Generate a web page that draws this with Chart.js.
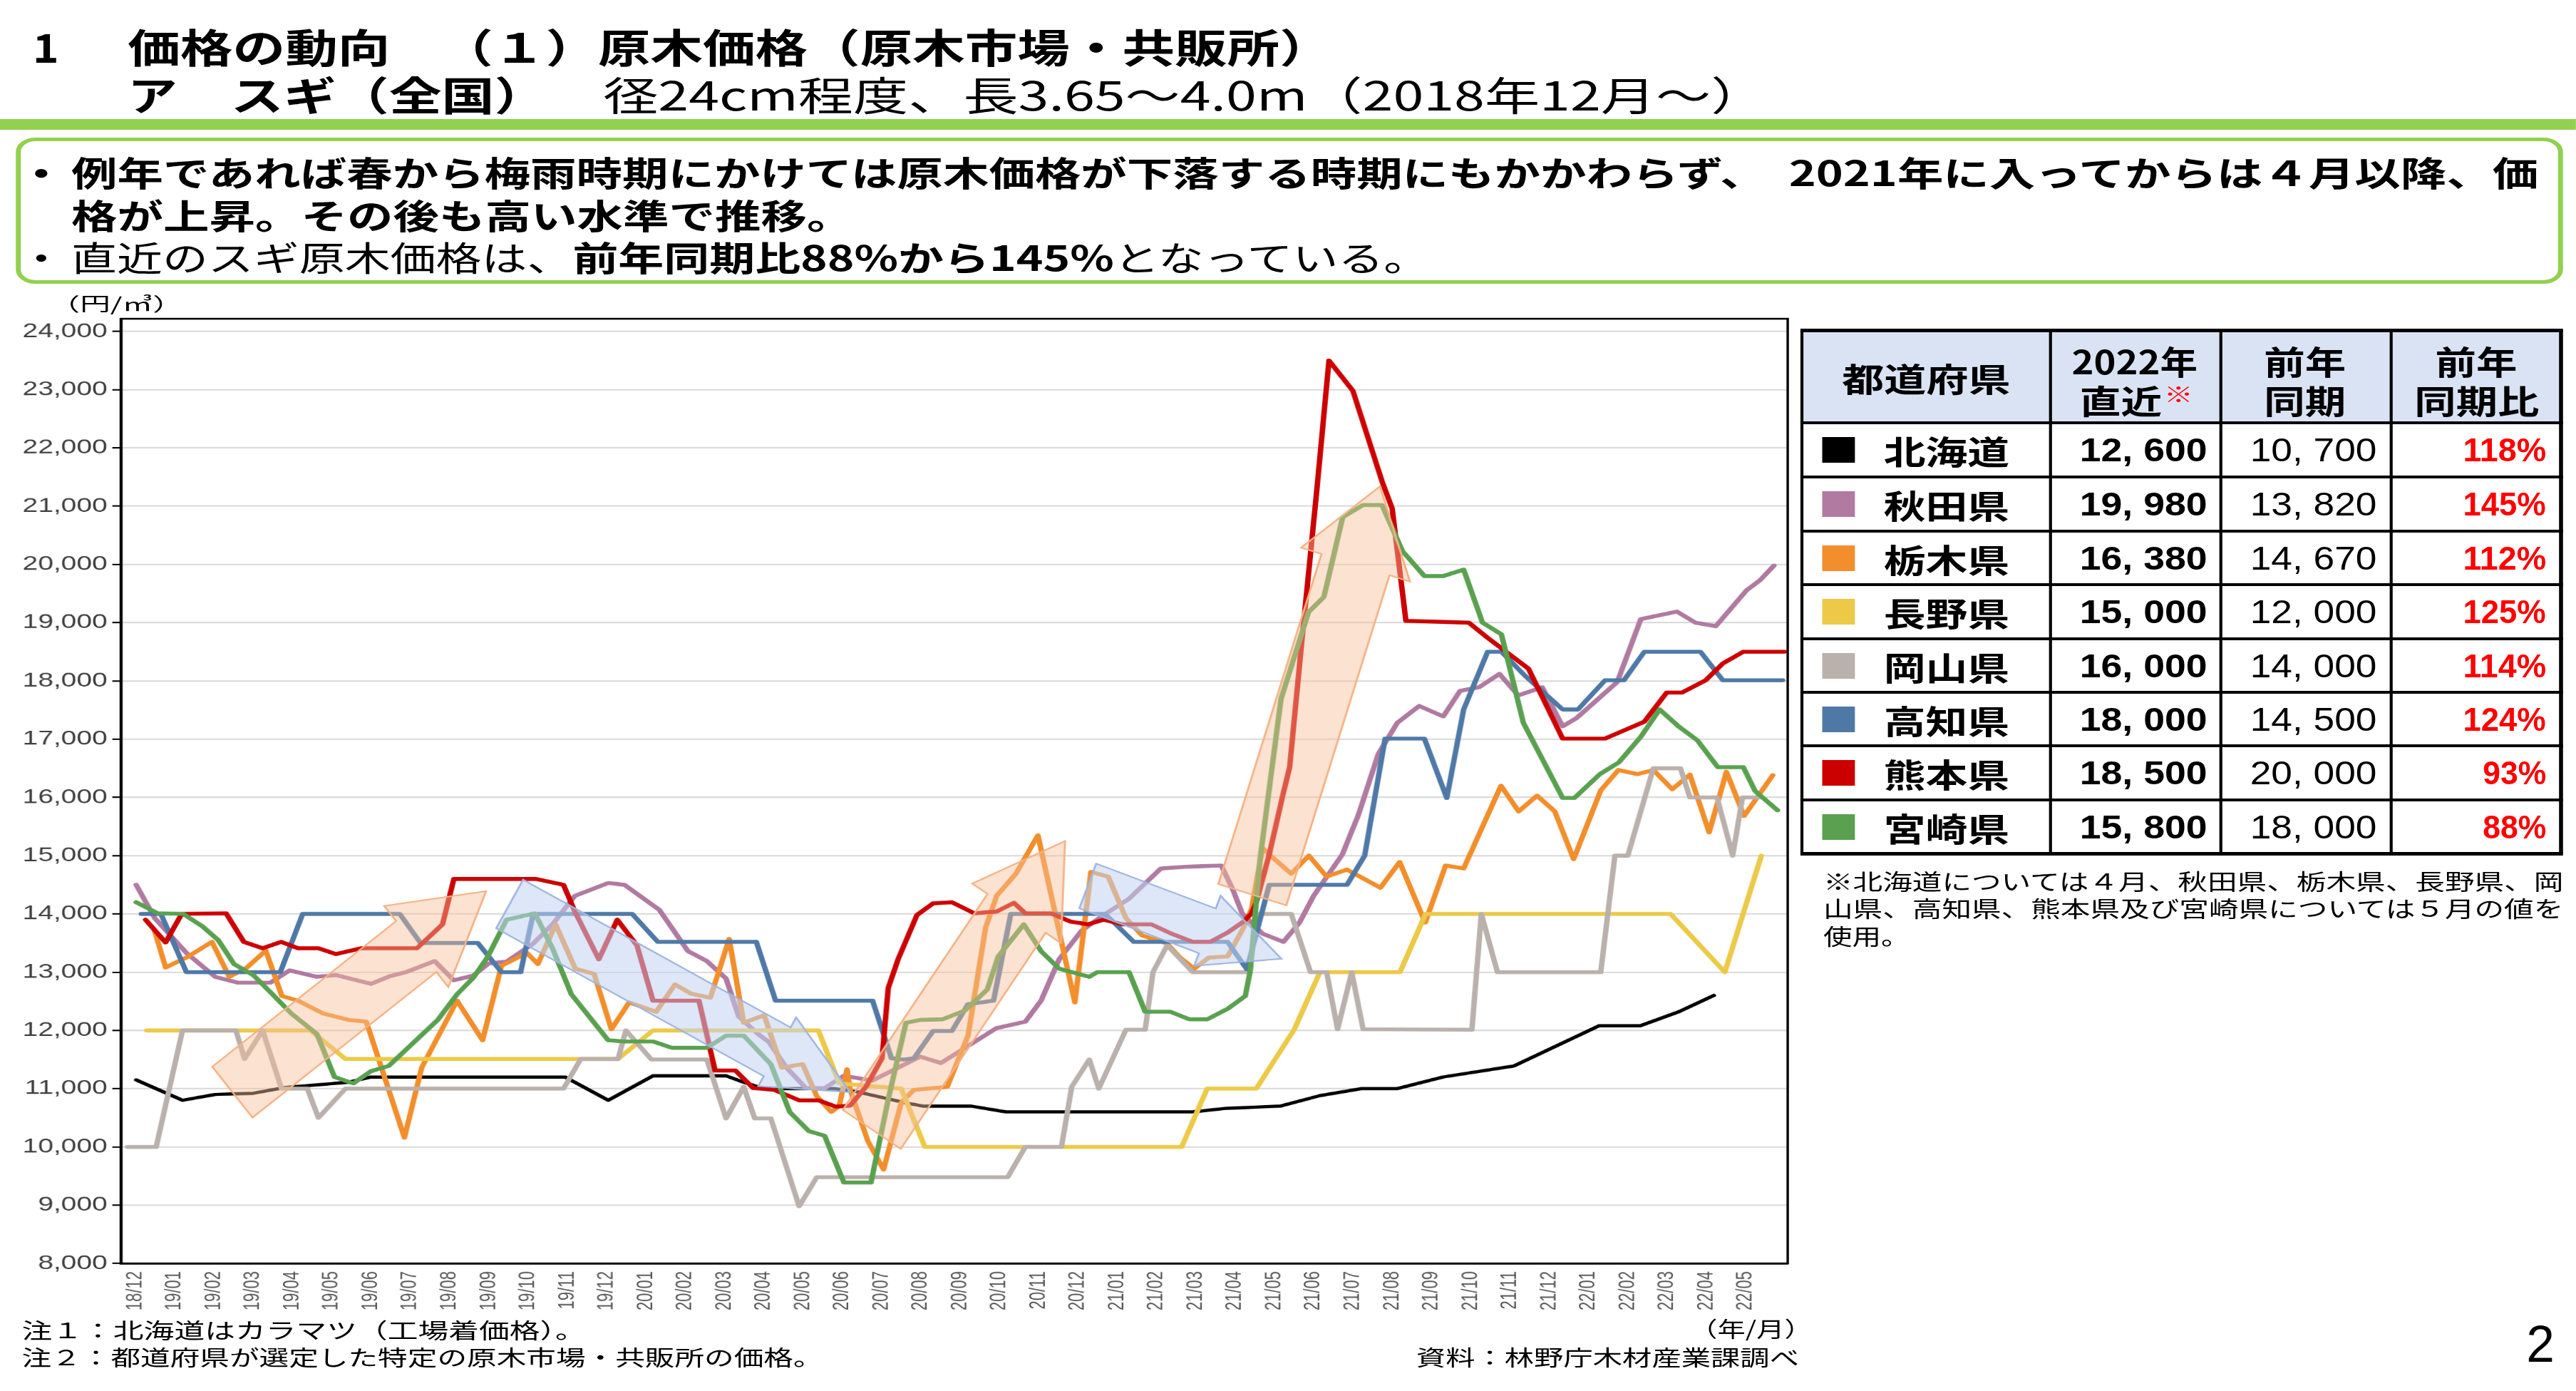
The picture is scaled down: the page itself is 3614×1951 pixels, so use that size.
<!DOCTYPE html>
<html><head><meta charset="utf-8">
<script src="https://cdn.jsdelivr.net/npm/chart.js@4/dist/chart.umd.min.js"></script>
<style>
html,body{margin:0;padding:0;background:#fff;overflow:hidden;}
body{width:3614px;height:1951px;position:relative;}
#slide{position:absolute;left:0;top:0;width:2601px;height:1951px;transform:scaleX(1.3894);transform-origin:0 0;}
.t{position:absolute;white-space:nowrap;line-height:1;font-family:"Noto Sans CJK JP","Noto Sans",sans-serif;color:#000;transform-origin:0 50%;}
.t b{font-weight:700;}
.box{position:absolute;}
#cv{position:absolute;left:0;top:400px;}
</style></head>
<body><div id="slide"><canvas id="cv" width="1815" height="1460"></canvas></div>
<script>
// ---------------- DATA ----------------
const months = ['18/12','19/01','19/02','19/03','19/04','19/05','19/06','19/07','19/08','19/09','19/10','19/11','19/12',
  '20/01','20/02','20/03','20/04','20/05','20/06','20/07','20/08','20/09','20/10','20/11','20/12',
  '21/01','21/02','21/03','21/04','21/05','21/06','21/07','21/08','21/09','21/10','21/11','21/12',
  '22/01','22/02','22/03','22/04','22/05'];
const yTicks = [8000,9000,10000,11000,12000,13000,14000,15000,16000,17000,18000,19000,20000,21000,22000,23000,24000];
const seriesNames = ['北海道','秋田県','栃木県','長野県','岡山県','高知県','熊本県','宮崎県'];
// [month offset from 18/12, price yen/m3]
const hokkaido = [[0.02,11150],[1.2,10800],[2.03,10900],[3.0,10920],[3.81,11020],[5.43,11110],[6.0,11200],[10.94,11200],[12.04,10800],[13.18,11220],[15.04,11220],[15.49,11110],[16.0,11000],[17.8,11000],[18.36,10950],[19.58,10760],[20.06,10700],[21.28,10700],[22.17,10600],[26.92,10600],[27.73,10660],[29.15,10700],[30.16,10880],[31.22,11000],[32.12,11000],[33.3,11200],[35.1,11390],[37.27,12080],[38.32,12080],[39.3,12320],[40.19,12600]];
const akita = [[0.02,14500],[0.49,13930],[1.3,13330],[2.03,12920],[2.6,12820],[3.44,12820],[3.93,13030],[4.62,12920],[5.11,12950],[6.0,12800],[6.48,12930],[6.89,13000],[7.62,13190],[8.11,12860],[8.6,12940],[9.0,13150],[9.45,13180],[10.13,13490],[10.62,13820],[11.19,14310],[12.04,14530],[12.45,14500],[13.34,14070],[14.07,13360],[14.55,13190],[15.04,12890],[15.36,12240],[15.85,11940],[16.13,11800],[16.58,11360],[17.07,11010],[17.55,11010],[18.04,11220],[18.77,11140],[19.98,11550],[20.51,11440],[21.36,11800],[21.93,12040],[22.66,12150],[23.06,12510],[23.52,13220],[24.09,13710],[24.65,13980],[25.3,14260],[26.11,14780],[26.76,14810],[27.65,14830],[27.94,14420],[28.18,14010],[28.7,13660],[29.23,13520],[29.64,13850],[30.0,14310],[30.73,15020],[31.14,15700],[31.65,16750],[32.13,17280],[32.69,17570],[33.3,17390],[33.73,17830],[34.21,17890],[34.73,18120],[35.21,17750],[35.82,17890],[36.34,17220],[36.69,17360],[37.73,17980],[38.33,19060],[39.25,19190],[39.72,19000],[40.24,18940],[41.03,19560],[41.37,19730],[41.72,19980]];
const tochigi = [[0.49,13710],[0.77,13080],[1.3,13250],[1.95,13520],[2.39,12920],[2.84,13080],[3.32,13370],[3.73,12590],[4.14,12510],[4.78,12290],[5.43,12180],[5.88,12150],[6.85,10160],[7.29,11360],[8.19,12510],[8.84,11830],[9.32,13110],[9.97,13330],[10.25,13140],[10.7,13820],[11.2,13060],[11.68,12970],[12.12,12020],[12.57,12480],[13.26,12320],[13.74,12790],[14.15,12630],[14.64,12560],[15.12,13570],[15.49,12130],[16.01,12260],[16.46,11360],[16.99,11420],[17.35,10870],[17.72,10600],[17.92,10700],[18.12,11330],[18.2,10980],[18.65,10100],[19.05,9610],[19.5,10760],[19.82,10980],[20.67,11030],[21.2,11910],[21.65,13770],[21.93,14310],[22.42,14690],[22.98,15350],[23.92,12480],[24.33,14720],[24.77,14640],[25.22,13930],[25.63,13630],[26.27,13490],[26.6,13250],[26.96,13060],[27.33,13250],[27.81,13270],[28.22,13770],[28.42,14090],[28.7,15130],[28.95,14970],[29.43,14690],[29.88,15000],[30.33,14640],[30.85,14760],[31.7,14450],[32.19,14890],[32.84,13850],[33.36,14830],[33.82,14780],[34.77,16200],[35.22,15760],[35.69,16030],[36.14,15760],[36.62,14940],[37.31,16120],[37.76,16470],[38.24,16400],[38.65,16470],[39.13,16140],[39.58,16390],[40.07,15400],[40.51,16440],[40.96,15680],[41.69,16380]];
const nagano = [[0.29,12000],[4.46,12000],[5.35,11510],[12.29,11510],[13.18,12000],[17.39,12000],[17.92,11090],[19.5,11000],[20.1,10000],[26.64,10000],[27.29,11000],[28.54,11000],[29.51,12020],[30.16,13000],[32.2,13000],[32.85,14000],[39.09,14000],[40.47,13000],[41.4,15000]];
const okayama = [[-0.2,10000],[0.53,10000],[1.2,12000],[2.56,12000],[2.78,11510],[3.24,12000],[3.72,11000],[4.38,11000],[4.66,10500],[5.35,11000],[10.9,11000],[11.34,11510],[12.29,11510],[12.49,12000],[13.14,11500],[14.55,11500],[15.04,10490],[15.49,11030],[15.77,10490],[16.18,10490],[16.9,8980],[17.35,9480],[22.21,9480],[22.66,10000],[23.58,10000],[23.84,11030],[24.29,11500],[24.53,11000],[25.22,12010],[25.71,12010],[25.91,13000],[26.27,13460],[26.92,13000],[28.38,13000],[28.54,14000],[29.43,14000],[29.92,13000],[30.33,13000],[30.61,12020],[30.97,13000],[31.26,12020],[34.03,12010],[34.27,14000],[34.68,13000],[37.31,13000],[37.67,15000],[38.0,15000],[38.65,16500],[39.34,16500],[39.58,16000],[40.27,16000],[40.67,15000],[40.92,16000],[41.36,16000]];
const kochi = [[0.15,14000],[0.65,14000],[1.3,13000],[3.69,13000],[4.26,14000],[6.73,14000],[7.26,13500],[8.72,13500],[9.32,13000],[9.81,13000],[10.13,14000],[12.65,14000],[13.3,13520],[15.81,13520],[16.3,12510],[18.77,12510],[19.25,11520],[19.54,11500],[19.82,11520],[20.31,11990],[20.79,11990],[21.2,12450],[21.85,12510],[22.29,14000],[24.69,14000],[25.42,13520],[27.81,13520],[28.3,13050],[28.87,14500],[30.85,14500],[31.3,15000],[31.82,17010],[32.82,17010],[33.39,15990],[33.82,17510],[34.43,18500],[34.78,18500],[35.38,18090],[36.34,17510],[36.73,17510],[37.42,18010],[37.9,18010],[38.42,18500],[39.85,18500],[40.42,18010],[41.94,18010]];
const kumamoto = [[0.26,13900],[0.77,13510],[1.18,14000],[2.31,14010],[2.76,13520],[3.24,13410],[3.71,13520],[4.14,13410],[4.66,13410],[5.11,13310],[5.75,13410],[7.17,13410],[7.82,13820],[8.11,14600],[10.2,14600],[10.9,14500],[11.19,14040],[11.8,13220],[12.27,13900],[12.77,13460],[13.18,12510],[14.35,12510],[14.76,11310],[15.28,11310],[15.73,11010],[16.26,10980],[16.9,10800],[17.39,10800],[17.84,10690],[18.2,10710],[18.6,11030],[19.01,11520],[19.17,12730],[19.42,13220],[19.9,13980],[20.31,14180],[20.79,14200],[21.36,14010],[21.93,14040],[22.37,14190],[22.66,14010],[23.31,14010],[23.8,13870],[24.25,13820],[24.65,13900],[25.14,13820],[25.87,13820],[26.35,13670],[26.92,13520],[27.37,13520],[27.81,13680],[28.22,13870],[28.42,14010],[28.54,14200],[28.87,15020],[29.22,16050],[29.39,16520],[29.7,18680],[30.09,21340],[30.39,23500],[31.0,22980],[31.74,21430],[32.0,20960],[32.35,19030],[33.95,19000],[34.43,18740],[35.47,18210],[36.34,17010],[37.42,17010],[38.42,17300],[38.99,17800],[39.38,17800],[39.98,18010],[40.42,18300],[40.94,18500],[41.98,18500]];
const miyazaki = [[0.02,14200],[0.57,14010],[1.22,14000],[1.7,13790],[2.11,13550],[2.51,13140],[3.0,12950],[3.49,12620],[3.97,12290],[4.62,11940],[5.07,11200],[5.55,11090],[6.0,11300],[6.45,11390],[7.05,11770],[7.7,12180],[8.19,12620],[8.6,12900],[8.96,13250],[9.45,13900],[10.17,14010],[10.62,13410],[11.1,12620],[12.04,11830],[12.45,11810],[13.18,11810],[13.66,11700],[14.55,11700],[15.04,11910],[15.49,11910],[16.18,11420],[16.66,10600],[17.15,10270],[17.55,10190],[18.04,9390],[18.73,9390],[19.17,10820],[19.62,12130],[19.98,12180],[20.55,12190],[21.12,12340],[21.69,12700],[21.97,13270],[22.62,13820],[23.06,13360],[23.52,13060],[24.29,12920],[24.49,13000],[25.3,13000],[25.71,12320],[26.35,12320],[26.84,12190],[27.29,12190],[27.81,12370],[28.26,12590],[28.38,13000],[28.64,14960],[29.17,17690],[29.87,19180],[30.26,19440],[30.74,20810],[31.26,21020],[31.74,21020],[32.26,20230],[32.82,19800],[33.3,19800],[33.82,19910],[34.3,19000],[34.78,18800],[35.34,17280],[36.34,15990],[36.64,15990],[37.29,16400],[37.77,16600],[38.33,17040],[38.81,17510],[39.29,17220],[39.77,16980],[40.29,16520],[40.94,16520],[41.24,16110],[41.81,15780]];
const latest2022 = [12600,19980,16380,15000,16000,18000,18500,15800];
const prevYear = [10700,13820,14670,12000,14000,14500,20000,18000];
const ratioLabels = ['118%','145%','112%','125%','114%','124%','93%','88%'];
// trend arrows: anchors in data units [month, yen]
const trendArrows = [
  {kind:'up',   from:[2.47,10940], to:[8.93,14390]},
  {kind:'down', from:[9.53,14170], to:[18.2,10940]},
  {kind:'up',   from:[18.75,10300], to:[23.67,15250]},
  {kind:'down', from:[24.25,14480], to:[29.18,13230]},
  {kind:'up',   from:[28.44,14330], to:[31.69,21340]}
];

// ---------------- STYLE / LAYOUT ----------------
const S = 1.3894;
const colors = ['#000000','#B07AA1','#F28E2B','#EDC948','#BAB0AC','#4E79A7','#CC0000','#59A14F'];
const arrowSizes = [{shaft:91,head:145,len:125},{shaft:78,head:110,len:117},{shaft:98,head:150,len:122},{shaft:67,head:105,len:111},{shaft:100,head:160,len:115}];
const arrowStyles = {up:{fill:'rgba(246,190,152,0.45)',stroke:'#F4B183'},down:{fill:'rgba(195,212,240,0.55)',stroke:'#9DB5E0'}};
const slide = document.getElementById('slide');

function box(x,y,w,h,style){const d=document.createElement('div');d.className='box';Object.assign(d.style,{left:x+'px',top:y+'px',width:w+'px',height:h+'px'},style||{});slide.appendChild(d);return d;}
const blankL = /^[（「]/, blankR = /[）。」]$/;
function place(html,x,cy,size,w,opts){opts=opts||{};const el=document.createElement('div');el.className='t';el.innerHTML=html;
  el.style.fontSize=size+'px';el.style.left=x+'px';el.style.top=(cy-size*0.52)+'px';
  if(opts.weight)el.style.fontWeight=opts.weight; if(opts.color)el.style.color=opts.color; if(opts.font)el.style.fontFamily=opts.font;
  const txt=el.textContent;
  el.dataset.w=w; el.dataset.x=x; el.dataset.s=size;
  el.dataset.bl=blankL.test(txt)?0.5:0; el.dataset.br=blankR.test(txt)?0.5:0;
  slide.appendChild(el); return el;}
function fitAll(){document.querySelectorAll('.t').forEach(el=>{el.style.transform='none';const W=el.offsetWidth;const t=+el.dataset.w;const s=+el.dataset.s;
  const bl=+el.dataset.bl*s, br=+el.dataset.br*s;
  if(t&&W){const k=t/(W-bl-br);el.style.transform='scaleX('+k+')';el.style.left=(+el.dataset.x-bl*k)+'px';}});}

// Title
place('1',33,65,56,26.6,{weight:700});
place('価格の動向',128.8,65,56,265,{weight:700});
place('（１）原木価格（原木市場・共販所）',471.4,65,56,847,{weight:700});
place('ア',128.8,132,56,50,{weight:700});
place('スギ（全国）',232.6,132,56,292.8,{weight:700});
place('径24cm程度、長3.65～4.0m（2018年12月～）',608.9,132,56,1145.8,{weight:400});
box(0,167,2601,15,{background:'#92D050'});
// Text box
box(15.8,193,2572,205,{border:'5px solid #92D050',borderRadius:'20px',boxSizing:'border-box'});
place('・',17.7,241,48,48,{weight:700});
place('例年であれば春から梅雨時期にかけては原木価格が下落する時期にもかかわらず、　2021年に入ってからは４月以降、価',71.6,241,48,2491,{weight:700});
place('格が上昇。その後も高い水準で推移。',71.6,301,48,766,{weight:700});
place('・',17.7,360,48,48,{weight:400});
place('直近のスギ原木価格は、<b>前年同期比88%から145%</b>となっている。',71.6,360,48,1348,{weight:400});
// axis unit
place('（円/㎥）',65.6,426,26,104,{weight:400});
// footer
place('注１：北海道はカラマツ（工場着価格）。',22,1865,30,554,{});
place('注２：都道府県が選定した特定の原木市場・共販所の価格。',22,1903,30,794,{});
place('（年/月）',1720,1863,30,96,{});
place('資料：林野庁木材産業課調べ',1430,1903,30,386.6,{});
place('2',2551,1886,72,28.5,{font:'"Liberation Sans",sans-serif'});

// Table
const colX=[1819.5,2070.6,2242,2414,2586];
const rowY=[463,593,669,745,820,896,971,1046,1122,1197];
box(colX[0],rowY[0],colX[4]-colX[0],rowY[1]-rowY[0],{background:'#DAE3F3'});
rowY.forEach((y,i)=>{const th=(i===0||i===rowY.length-1)?5:4;box(colX[0]-1.5,y-th/2,colX[4]-colX[0]+3,th,{background:'#000'});});
colX.forEach((x,i)=>{const tw=(i===0||i===colX.length-1)?3.6:3;box(x-tw/2,rowY[0],tw,rowY[rowY.length-1]-rowY[0],{background:'#000'});});
place('都道府県',1859.8,530,46,170,{weight:700});
place('2022年',2092.3,506,46,127.4,{weight:700});
place('直近',2100,561,46,83,{weight:700});
place('※',2185,552,30,29.6,{weight:700,color:'#FF0000'});
place('前年',2285.9,506,46,82.8,{weight:700});
place('同期',2285.9,561,46,82.8,{weight:700});
place('前年',2459.4,506,46,82.7,{weight:700});
place('同期比',2437.8,561,46,126,{weight:700});
const fmt=n=>n.toLocaleString('en-US').replace(',',', ');
seriesNames.forEach((nm,i)=>{
  const cy=(rowY[i+1]+rowY[i+2])/2;
  box(1839.6,cy-18,33,36,{background:colors[i]});
  place(nm,1901.5,cy+1,46,127,{weight:700});
  place(fmt(latest2022[i]),2100,cy+1,46,128.3,{weight:700,font:'"Liberation Sans","Noto Sans CJK JP",sans-serif'});
  place(fmt(prevYear[i]),2271.5,cy+1,46,127.5,{weight:400,font:'"Liberation Sans","Noto Sans CJK JP",sans-serif'});
  const w=ratioLabels[i].length===4?84:64;
  place(ratioLabels[i],2571-w,cy+1,46,w,{weight:700,color:'#FF0000',font:'"Liberation Sans","Noto Sans CJK JP",sans-serif'});
});
place('※北海道については４月、秋田県、栃木県、長野県、岡',1841,1235,31,747,{});
place('山県、高知県、熊本県及び宮崎県については５月の値を',1841,1273,31,747,{});
place('使用。',1841,1312,31,73,{});

// ---------------- CHART ----------------
const frameArrows={id:'frameArrows',
  afterDatasetsDraw(chart){
    const {ctx,chartArea:a,scales:{x,y}}=chart;
    ctx.save();
    ctx.beginPath();ctx.rect(a.left,a.top,a.right-a.left,a.bottom-a.top);ctx.clip();
    trendArrows.forEach((ar,i)=>{
      const st=arrowStyles[ar.kind],sz=arrowSizes[i];
      const x0=x.getPixelForValue(ar.from[0])*S,y0=y.getPixelForValue(ar.from[1]);
      const x1=x.getPixelForValue(ar.to[0])*S,y1=y.getPixelForValue(ar.to[1]);
      const dx=x1-x0,dy=y1-y0,L=Math.hypot(dx,dy),ux=dx/L,uy=dy/L,px=-uy,py=ux;
      const hs=sz.shaft/2,hh=sz.head/2,bx=x1-ux*sz.len,by=y1-uy*sz.len;
      const pts=[[x0+px*hs,y0+py*hs],[bx+px*hs,by+py*hs],[bx+px*hh,by+py*hh],[x1,y1],[bx-px*hh,by-py*hh],[bx-px*hs,by-py*hs],[x0-px*hs,y0-py*hs]];
      ctx.beginPath();pts.forEach((p,k)=>{k?ctx.lineTo(p[0]/S,p[1]):ctx.moveTo(p[0]/S,p[1]);});ctx.closePath();
      ctx.fillStyle=st.fill;ctx.fill();ctx.lineWidth=2;ctx.strokeStyle=st.stroke;ctx.lineJoin='miter';ctx.stroke();
    });
    ctx.restore();
    ctx.save();ctx.strokeStyle='#000';ctx.lineWidth=2.5;ctx.strokeRect(a.left,a.top,a.right-a.left,a.bottom-a.top);ctx.restore();
  }};
const allSeries=[hokkaido,akita,tochigi,nagano,okayama,kochi,kumamoto,miyazaki];
new Chart(document.getElementById('cv'),{
  type:'line',
  data:{datasets:allSeries.map((d,i)=>({label:seriesNames[i],data:d.map(p=>({x:p[0],y:p[1]})),borderColor:colors[i],
    borderWidth:i===0?4.5:5.5,pointRadius:0,tension:0,fill:false,order:allSeries.length-i,borderJoinStyle:'round',borderCapStyle:'round'}))},
  options:{responsive:false,animation:false,devicePixelRatio:1.4,
    layout:{padding:{top:47,right:9.9,left:0,bottom:0}},
    plugins:{legend:{display:false},tooltip:{enabled:false}},
    scales:{
      x:{type:'linear',min:-0.36,max:42.07,offset:false,
        afterBuildTicks:ax=>{ax.ticks=months.map((_,i)=>({value:i}));},
        afterFit:ax=>{ax.height=88;},
        grid:{display:true,drawOnChartArea:false,drawTicks:false},
        border:{display:true,color:'#000',width:3},
        ticks:{autoSkip:false,minRotation:90,maxRotation:90,padding:11,color:'#595959',
          font:{family:'"Liberation Sans",Arial,sans-serif',size:22},callback:(v)=>months[Math.round(v)]}},
      y:{type:'linear',min:8000,max:24218,
        afterBuildTicks:ax=>{ax.ticks=yTicks.map(v=>({value:v}));},
        afterFit:ax=>{ax.width=122.4;},
        grid:{color:'#D9D9D9',lineWidth:2,tickColor:'#000',tickLength:9,tickWidth:2},
        border:{display:true,color:'#000',width:3},
        ticks:{padding:5,color:'#404040',font:{family:'"Liberation Sans",Arial,sans-serif',size:28},
          callback:v=>Number(v).toLocaleString('en-US')}}
    }},
  plugins:[frameArrows]
});
fitAll();
if(document.fonts&&document.fonts.ready)document.fonts.ready.then(fitAll);
</script></body></html>
